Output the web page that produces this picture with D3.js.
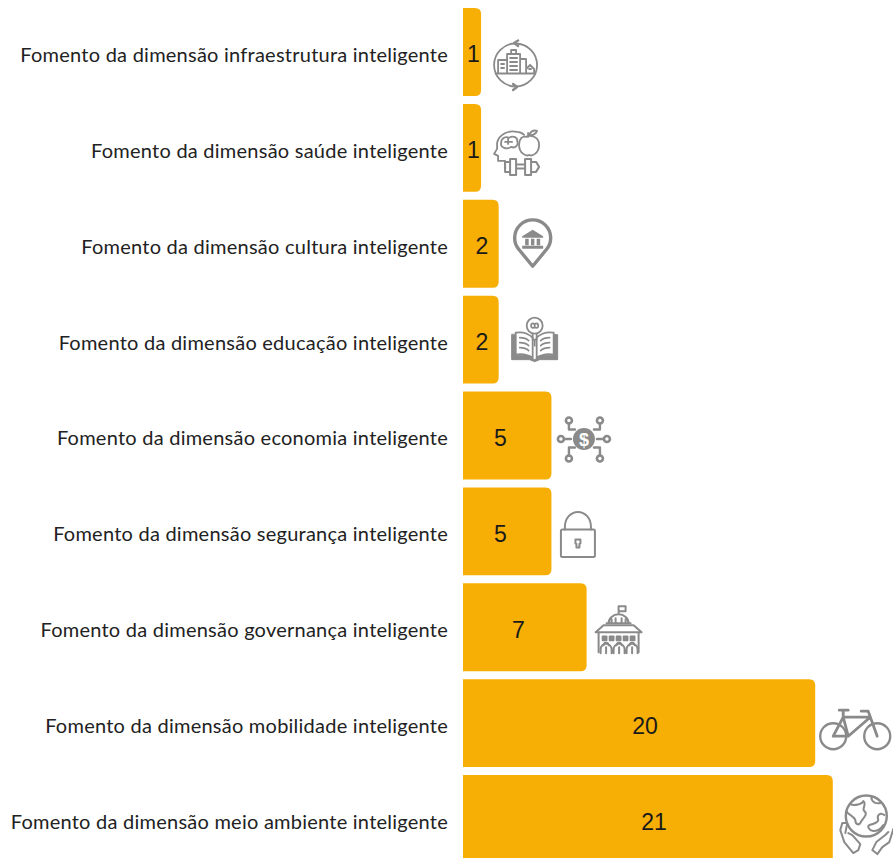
<!DOCTYPE html>
<html>
<head>
<meta charset="utf-8">
<style>
  html, body { margin: 0; padding: 0; background: #fff; overflow: hidden; }
  svg { display: block; }
</style>
<script src="https://cdn.jsdelivr.net/npm/d3@7"></script>
</head>
<body>
<div id="chart"></div>
<script>
// ── Data ──────────────────────────────────────────────────────
const categories = [
  'Fomento da dimensão infraestrutura inteligente',
  'Fomento da dimensão saúde inteligente',
  'Fomento da dimensão cultura inteligente',
  'Fomento da dimensão educação inteligente',
  'Fomento da dimensão economia inteligente',
  'Fomento da dimensão segurança inteligente',
  'Fomento da dimensão governança inteligente',
  'Fomento da dimensão mobilidade inteligente',
  'Fomento da dimensão meio ambiente inteligente'
];
const values = [1, 1, 2, 2, 5, 5, 7, 20, 21];
const iconNames = ['city', 'health', 'pin', 'book', 'money', 'lock', 'capitol', 'bike', 'globe'];

// ── Layout ────────────────────────────────────────────────────
const W = 893, H = 858;
const BAR = '#F7AE05', GREY = '#8A8A8A', INK = '#222222';

const x = d3.scaleLinear().domain([0, 21]).range([463.5, 832.8]);
const y = d3.scaleBand().domain(categories).range([8, 863]).paddingInner(0.083);
// the value labels sit a bit off the bar centres in the original
const labelX = d3.scaleLinear().domain([1, 2, 5, 7, 20, 21]).range([473.5, 482, 500.5, 518.5, 645, 654]);

const svg = d3.select('#chart').append('svg')
  .attr('width', W).attr('height', H).attr('viewBox', `0 0 ${W} ${H}`);

// ── Bars ──────────────────────────────────────────────────────
function barPath(i) {
  const x0 = 463, x1 = x(values[i]), y0 = y(categories[i]), y1 = y0 + y.bandwidth(), r = 6;
  return `M${x0},${y0}H${x1 - r}Q${x1},${y0} ${x1},${y0 + r}V${y1 - r}Q${x1},${y1} ${x1 - r},${y1}H${x0}Z`;
}

svg.append('g').selectAll('path')
  .data(categories)
  .join('path')
  .attr('d', (d, i) => barPath(i))
  .attr('fill', BAR);

svg.append('g').selectAll('text')
  .data(categories)
  .join('text')
  .attr('x', (d, i) => labelX(values[i]))
  .attr('y', d => y(d) + y.bandwidth() / 2 + 10.5)
  .attr('text-anchor', 'middle')
  .attr('font-family', '"Liberation Sans", Arial, sans-serif')
  .attr('font-size', 23)
  .attr('fill', '#1a1a1a')
  .text((d, i) => values[i]);

// ── Category labels ───────────────────────────────────────────
const axis = svg.append('g')
  .attr('transform', 'translate(463,3.5)')
  .call(d3.axisLeft(y).tickSize(0).tickPadding(15));
axis.select('.domain').remove();
axis.selectAll('text')
  .attr('font-family', 'Lato, sans-serif')
  .attr('font-size', 20)
  .attr('letter-spacing', 0.24)
  .attr('fill', INK);

// ── Icons ─────────────────────────────────────────────────────
// each one is drawn in its own little box, origin at the top left
const ICONS = {
  city(g) {
    g.append('circle').attr('cx', 22.5).attr('cy', 22).attr('r', 21.5);
    g.append('path').attr('d', 'M25,-2.5 L21,0 L25,3 M20,41 L24,44 L20,47').attr('stroke-width', 2.4);
    g.append('path').attr('d', 'M5,30 V17 H14 V30 M14,30 V11 H27 V30 M27,30 V16 H33 V30 M33,30 V26 L37,22 L41,26 V30 M18,11 V7 H23 V11 M3,30.5 H42 M8,21 H11 M8,25 H11 M17,15 H24 M17,19 H24 M17,23 H24 M17,27 H24 M36,26 H38');
  },
  health(g) {
    g.append('path').attr('d', 'M12,38 V31 H5 V26 L1,24 L4,19 V13 C6,4 16,0 24,2 C27,2 29,3 31,5');
    g.append('path').attr('d', 'M8,13 C8,8 13,6 16,8 C20,5 25,8 24,11 C26,15 22,19 18,17 C14,20 7,18 8,13 M12,12 H19 M15,9 V14');
    g.append('path').attr('d', 'M33,7 C37,5 46,6 46,15 C46,23 39,27 36,25 C33,27 26,23 26,15 C26,8 30,6 33,7 M35,7 V3 M36,5 C38,1 41,0 44,1 C43,4 39,6 36,5');
    g.append('path').attr('d', 'M23,34.5 H32 M23,38.5 H32 M17,29 H23 V45 H17 Z M32,29 H38 V45 H32 Z M12,32 H17 V42 H12 Z M38,32 H43 L46,37 L43,42 H38').attr('stroke-width', 2);
  },
  pin(g) {
    g.append('path').attr('d', 'M19.5,46.5 L6,30 A18,18 0 1 1 33,30 Z').attr('stroke-width', 3.4);
    g.append('path').attr('d', 'M19.5,10 L30,16.5 V18 H9 V16.5 Z M9,26 H30 V29 H9 Z M12,19 H15.5 V25.5 H12 Z M17.8,19 H21.2 V25.5 H17.8 Z M23.5,19 H27 V25.5 H23.5 Z').attr('fill', GREY).attr('stroke', 'none');
  },
  book(g) {
    g.append('circle').attr('cx', 24).attr('cy', 9).attr('r', 8);
    g.append('path').attr('d', 'M20.5,9 A1.8,1.8 0 1 1 24,9 A1.8,1.8 0 1 1 27.5,9 A1.8,1.8 0 1 1 24,9 A1.8,1.8 0 1 1 20.5,9 M22,17 V23 H26 V17 M24,23 V29');
    g.append('path').attr('d', 'M1,18 V43 H19 L24,45 L29,43 H47 V18 H43 V39 H30 L24,43 L18,39 H5 V18 Z').attr('fill', GREY).attr('stroke-width', 1);
    g.append('path').attr('d', 'M5,16 C11,15 17,16 22,21 V41 C17,38 11,37 5,38 Z M43,16 C37,15 31,16 26,21 V41 C31,38 37,37 43,38 Z').attr('stroke-width', 1.8);
    g.append('path').attr('d', 'M9,21 C13,21 16,22 18,24 M9,26 C13,26 16,27 18,29 M9,31 C13,31 16,32 18,34 M39,21 C35,21 32,22 30,24 M39,26 C35,26 32,27 30,29 M39,31 C35,31 32,32 30,34').attr('stroke-width', 1.6);
  },
  money(g) {
    g.append('circle').attr('cx', 26).attr('cy', 22.5).attr('r', 11).attr('fill', GREY).attr('stroke', 'none');
    g.append('text').attr('x', 26).attr('y', 29).attr('text-anchor', 'middle')
      .attr('font-family', '"Liberation Sans", sans-serif').attr('font-weight', 'bold')
      .attr('font-size', 18).attr('fill', '#fff').attr('stroke', 'none').text('$');
    const dots = [[11, 4], [42, 4], [3, 22.5], [49, 22.5], [11, 42], [42, 42]];
    g.selectAll('circle.dot').data(dots).join('circle').attr('class', 'dot')
      .attr('cx', d => d[0]).attr('cy', d => d[1]).attr('r', 3).attr('stroke-width', 2.6);
    g.append('path').attr('d', 'M11,7 V13 H17 M42,7 V13 H36 M6,22.5 H13 M46,22.5 H39 M11,39 V31 H17 M42,39 V31 H36').attr('stroke-width', 2.4);
  },
  lock(g) {
    g.append('rect').attr('x', 1).attr('y', 19).attr('width', 34).attr('height', 27.5).attr('rx', 1.5).attr('stroke-width', 2);
    g.append('path').attr('d', 'M5,19 V16 A13,14.5 0 0 1 31,16 V19').attr('stroke-width', 2);
    g.append('path').attr('d', 'M15.5,29 H20.5 V33 L19.5,33.5 V37 H16.5 V33.5 L15.5,33 Z').attr('stroke-width', 2);
  },
  capitol(g) {
    g.append('path').attr('d', 'M24,9 V1 H31 V6 H24 M14,18 A10,9 0 0 1 34,18 M12,18 H36 M17,18 V14 M21,18 V13 M27,18 V13 M31,18 V14').attr('stroke-width', 2);
    g.append('path').attr('d', 'M1,27 L9,20 H39 L47,27 Z M4,27 V47 M44,27 V47').attr('stroke-width', 2);
    g.append('path').attr('d', 'M8,31 H12 V35 H8 Z M15,31 H19 V35 H15 Z M22,31 H26 V35 H22 Z M29,31 H33 V35 H29 Z M36,31 H40 V35 H36 Z').attr('fill', GREY);
    g.append('path').attr('d', 'M6,48 V44 A5,5 0 0 1 17,44 V48 M19,48 V44 A5,5 0 0 1 30,44 V48 M32,48 V44 A5,5 0 0 1 43,44 V48 M11.5,48 V42 M24.5,48 V42 M37.5,48 V42 M9,40 A2.5,2.5 0 0 1 14,40 M22,40 A2.5,2.5 0 0 1 27,40 M35,40 A2.5,2.5 0 0 1 40,40').attr('stroke-width', 2);
  },
  bike(g) {
    g.append('circle').attr('cx', 14).attr('cy', 27).attr('r', 13).attr('stroke-width', 2.4);
    g.append('circle').attr('cx', 58).attr('cy', 27).attr('r', 13).attr('stroke-width', 2.4);
    g.append('path').attr('d', 'M14,27 H29 L51,8 M14,27 L24,8 L29,27 M24,8 H51 M58,27 L49,2 H42 M20,1 H29 M24,1 V8').attr('stroke-width', 2.8);
  },
  globe(g) {
    g.append('circle').attr('cx', 27).attr('cy', 21).attr('r', 20.5).attr('stroke-width', 2.4);
    g.append('path').attr('d', 'M11,9 C15,11 23,9 24,6 C28,9 22,14 25,16 C29,19 24,23 22,26 C20,31 16,30 16,25 C15,21 9,20 7,16').attr('stroke-width', 2);
    g.append('path').attr('d', 'M32,2 C32,7 37,9 41,8 M45,20 C41,17 37,20 39,25 C38,28 34,29 30,30 C28,31 29,35 34,36 C38,36 42,33 44,30').attr('stroke-width', 2);
    g.append('path').attr('d', 'M6,38 L8,28 L3,28 L1,35 L5,47 L14,58 L19,55 L21,49 L13,40 L9,38').attr('stroke-width', 2);
    g.append('path').attr('d', 'M54,34 L50,47 L43,52 L38,59 L33,55 L37,47 L46,40 L49,37').attr('stroke-width', 2);
  }
};

// offset from the bar end and bar top to the icon box
const iconOffset = {
  city: [12, 35], health: [12, 26], pin: [14.5, 20], book: [12, 21],
  money: [6.5, 25], lock: [8.5, 23], capitol: [8, 22], bike: [4, 30], globe: [6.5, 20]
};

const iconG = svg.append('g')
  .attr('fill', 'none').attr('stroke', GREY).attr('stroke-width', 1.8)
  .attr('stroke-linejoin', 'round').attr('stroke-linecap', 'round');

iconNames.forEach((name, i) => {
  const off = iconOffset[name];
  const g = iconG.append('g')
    .attr('transform', `translate(${x(values[i]) + off[0]},${y(categories[i]) + off[1]})`);
  ICONS[name](g);
});
</script>
</body>
</html>
